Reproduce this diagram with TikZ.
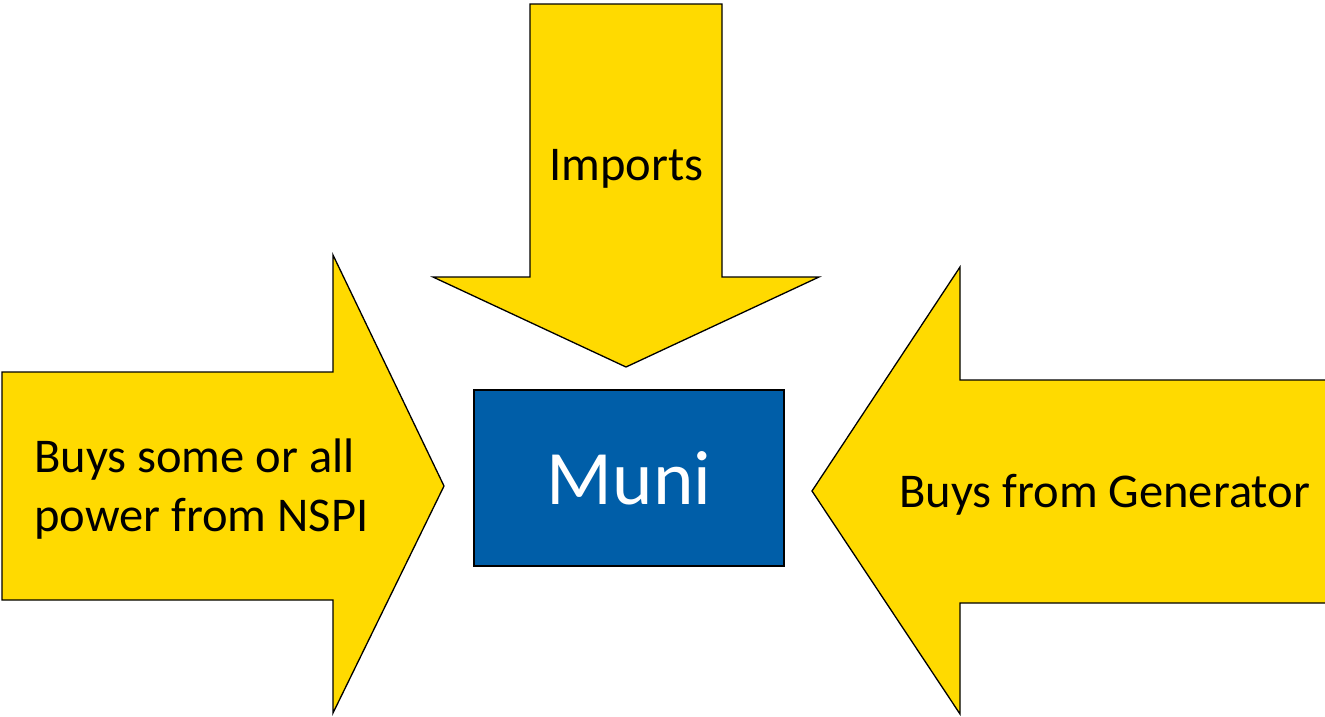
\documentclass[tikz,border=0pt]{standalone}
\usepackage{fontspec}
\setmainfont{Carlito}
\definecolor{arrowgold}{HTML}{FFDA00}
\definecolor{muniblue}{HTML}{005EA8}
\begin{document}
\begin{tikzpicture}[x=1pt,y=-1pt,
  flowarrow/.style={fill=arrowgold,draw=black,line width=1.3pt,line join=miter},
  arrowtext/.style={inner sep=0pt,text=black,font=\fontsize{48.5}{59}\selectfont},
  munibox/.style={fill=muniblue,draw=black,line width=1.5pt,minimum width=310pt,minimum height=176pt,inner sep=0pt,text=white,font=\fontsize{77}{90}\selectfont}]
\useasboundingbox (0,0) rectangle (1325,716);
\clip (0,0) rectangle (1325,716);
% top arrow pointing down
\draw[flowarrow] (530,4) -- (722,4) -- (722,277) -- (819,277) -- (626,367)
  -- (433,277) -- (530,277) -- cycle;
% left arrow pointing right
\draw[flowarrow] (2,372) -- (333,372) -- (333,255) -- (444,486) -- (333,713)
  -- (333,600) -- (2,600) -- cycle;
% right arrow pointing left
\draw[flowarrow] (1340,380) -- (960,380) -- (960,267) -- (812,491) -- (960,714)
  -- (960,603) -- (1340,603);
% central box
\node[munibox] (muni) at (629,478) {Muni};
% labels
\node[arrowtext,anchor=base west] (imports) at (549,180) {Imports};
\node[arrowtext,anchor=base west,align=left] (nspi) at (34,531) {Buys some or all\\power from NSPI};
\node[arrowtext,anchor=base west] (gen) at (899,507) {Buys from Generator};
\end{tikzpicture}
\end{document}
